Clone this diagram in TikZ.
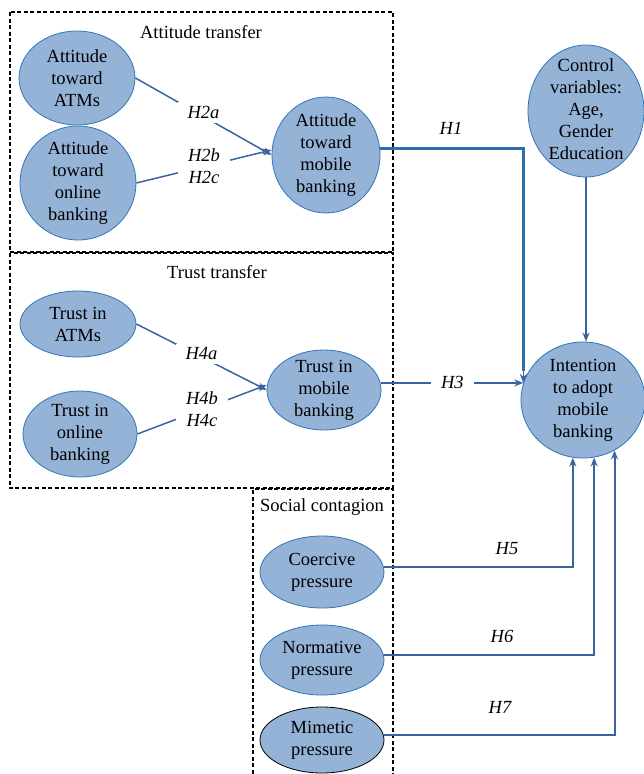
\documentclass[tikz,border=0pt]{standalone}
\usepackage{fontspec}
\setmainfont{Liberation Serif}
\usetikzlibrary{arrows.meta,shapes.geometric,calc}
\definecolor{efill}{HTML}{95B3D7}
\definecolor{eline}{HTML}{2E75B6}
\definecolor{aline}{HTML}{3A64A0}
\definecolor{hline}{HTML}{2E6DB0}
\begin{document}
\begin{tikzpicture}[x=1pt,y=-1pt,
  font=\fontsize{18.5}{22}\selectfont,
  ell/.style={ellipse, draw=eline, fill=efill, line width=0.8pt, inner sep=0pt},
  etext/.style={align=center, inner sep=0pt},
  conn/.style={draw=aline, line width=1.5pt, -{Stealth[length=9pt,width=7pt]}},
  hyp/.style={font=\fontsize{18.5}{22}\selectfont\itshape, align=center, fill=white, inner xsep=10pt, inner ysep=4pt},
  hyplab/.style={font=\fontsize{18.5}{22}\selectfont\itshape, align=center, inner sep=0pt},
  frame/.style={draw=black, line width=1.3pt, dash pattern=on 4pt off 2.5pt},
  ttl/.style={inner sep=0pt}
]
\useasboundingbox (0,0) rectangle (644,774);
% frames
\draw[frame] (10,12) rectangle (393,252);
\draw[frame] (10,253) rectangle (393,488);
\draw[frame] (253,780) -- (253,489) -- (393,489) -- (393,780);
\node[ttl] (tAtt) at (201,32) {Attitude transfer};
\node[ttl] (tTrust) at (217,272) {Trust transfer};
\node[ttl] (tSoc) at (322,507) {Social contagion};

% ellipses
\node[ell, minimum width=116pt, minimum height=94pt] (aatm) at (77,78) {};
\node[etext] (aatmT) at (aatm) {Attitude\\toward\\ATMs};
\node[ell, minimum width=116pt, minimum height=114pt] (aonl) at (78,183) {};
\node[etext] (aonlT) at (aonl) {Attitude\\toward\\online\\banking};
\node[ell, minimum width=108pt, minimum height=116pt] (amob) at (326,155) {};
\node[etext] (amobT) at (amob) {Attitude\\toward\\mobile\\banking};

\node[ell, minimum width=116pt, minimum height=132pt] (ctrl) at (586,111) {};
\node[etext] (ctrlT) at (586,109) {Control\\variables:\\Age,\\Gender\\Education};
\node[ell, minimum width=124pt, minimum height=116pt] (intent) at (583,400) {};
\node[etext] (intentT) at (intent) {Intention\\to adopt\\mobile\\banking};

\node[ell, minimum width=116pt, minimum height=66pt] (tatm) at (78,324) {};
\node[etext] (tatmT) at (tatm) {Trust in\\ATMs};
\node[ell, minimum width=114pt, minimum height=86pt] (tonl) at (80,434) {};
\node[etext] (tonlT) at (tonl) {Trust in\\online\\banking};
\node[ell, minimum width=114pt, minimum height=80pt] (tmob) at (324,390) {};
\node[etext] (tmobT) at (tmob) {Trust in\\mobile\\banking};

\node[ell, minimum width=124pt, minimum height=72pt] (coer) at (322,572) {};
\node[etext] (coerT) at (coer) {Coercive\\pressure};
\node[ell, minimum width=124pt, minimum height=70pt] (norm) at (322,660) {};
\node[etext] (normT) at (norm) {Normative\\pressure};
\node[ell, draw=black, minimum width=124pt, minimum height=66pt] (mime) at (322,740) {};
\node[etext] (mimeT) at (mime) {Mimetic\\pressure};

% connectors
\draw[conn] (aatm.east) -- node[hyp, pos=0.5, yshift=4pt] (h2a) {H2a} (amob.west);
\draw[conn] (aonl.east) -- node[hyp, pos=0.5] (h2bc) {H2b\\H2c} ($(amob.west)+(0,-5)$);
\draw[conn] (tatm.east) -- node[hyp, pos=0.5, yshift=3pt] (h4a) {H4a} (tmob.west);
\draw[conn] (tonl.east) -- node[hyp, pos=0.5] (h4bc) {H4b\\H4c} ($(tmob.west)+(0,-5)$);

\coordinate (ipt) at (intent.164);
\draw[draw=hline, line width=2.4pt] (amob.7) -| ($(ipt)+(0,-12)$);
\draw[conn] ($(ipt)+(0,-14)$) -- (ipt);
\node[hyplab] (h1) at (451,128) {H1};
\draw[conn] (tmob.east |- ipt) -- node[hyp, pos=0.5] (h3) {H3} (ipt);

\draw[conn] (ctrl.south) -- (ctrl.south |- intent.north);

\draw[conn, line width=2pt] (coer.5) -| (intent.260);
\node[hyplab] (h5) at (507,549) {H5};
\draw[conn, line width=2pt] (norm.5) -| (intent.281);
\node[hyplab] (h6) at (502,636) {H6};
\draw[conn, line width=2pt] (mime.5) -| (intent.302);
\node[hyplab] (h7) at (500,707) {H7};
\end{tikzpicture}
\end{document}
